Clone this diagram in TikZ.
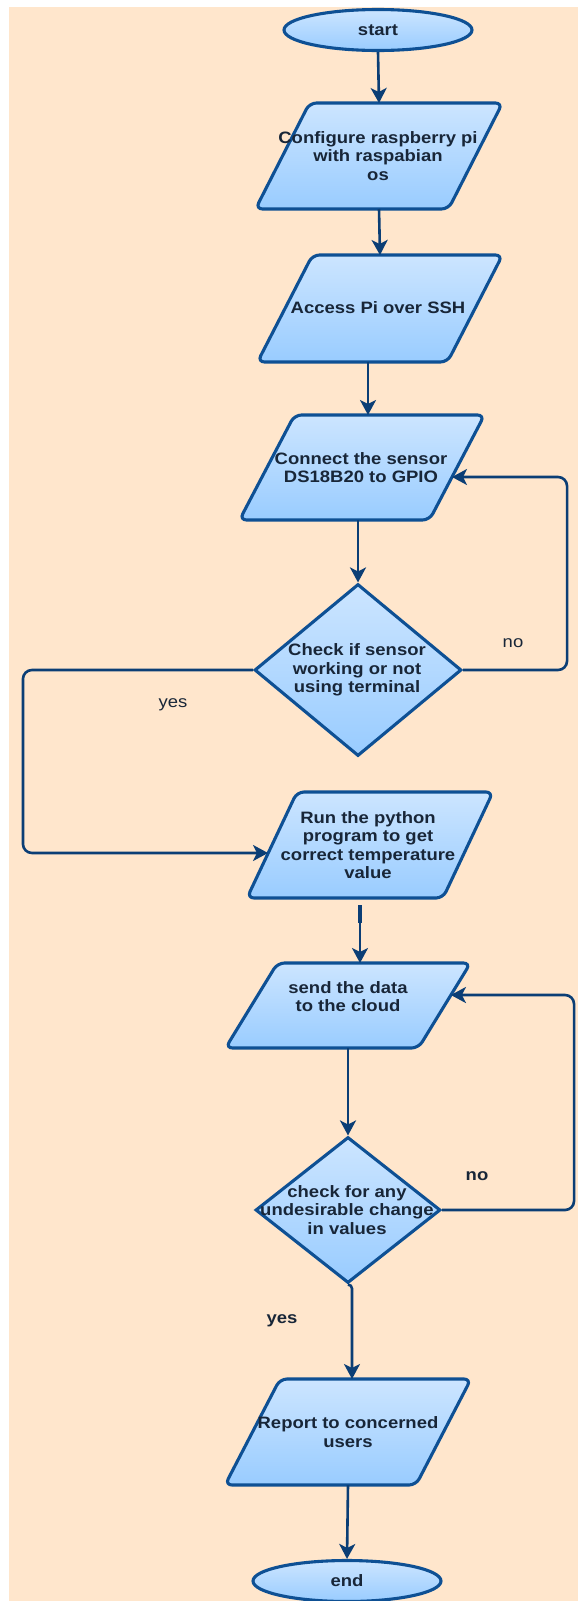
\documentclass[tikz,border=0pt]{standalone}
\usepackage{fontspec}
\setmainfont[FakeStretch=1.12]{Liberation Sans}
\usetikzlibrary{shapes.geometric,arrows.meta,calc}
\definecolor{bgc}{HTML}{FFE6CC}
\definecolor{bord}{HTML}{0E5094}
\definecolor{topc}{HTML}{CCE5FF}
\definecolor{botc}{HTML}{99CCFF}
\definecolor{linec}{HTML}{0B3E75}
\definecolor{txtc}{HTML}{182638}
\newcommand\blkfont{\fontsize{16.5}{18.3}\selectfont\bfseries}
\newcommand\labfont{\fontsize{16.5}{18.3}\selectfont}
% name, cx, cy, edge width, height, slant
\newcommand\iobox[6]{%
  \node[iobody, minimum width=#4pt, minimum height=#5pt] (#1) at (#2,#3) {};
  \draw[blkpath] ($(#1.south west)+(-#6/2,0)$) -- ($(#1.south east)+(-#6/2,0)$)
     -- ($(#1.north east)+(#6/2,0)$) -- ($(#1.north west)+(#6/2,0)$) -- cycle;}
\begin{document}
\begin{tikzpicture}[x=1pt,y=-1pt,
  blk/.style={draw=bord, line width=3.1pt, top color=topc, bottom color=botc, inner sep=0pt},
  blkpath/.style={blk, rounded corners=7pt},
  iobody/.style={rectangle, inner sep=0pt, outer sep=0pt},
  dec/.style={blk, diamond},
  term/.style={blk, ellipse, minimum width=188pt, minimum height=41pt, font=\blkfont, text=txtc},
  txt/.style={font=\blkfont, text=txtc, align=center, inner sep=0pt},
  lab/.style={font=\labfont, text=txtc, inner sep=0pt},
  labb/.style={font=\blkfont, text=txtc, inner sep=0pt},
  arr/.style={draw=linec, line width=2.6pt, -{Stealth[length=15pt,width=16pt,inset=4pt]}, rounded corners=9pt}
]
\useasboundingbox (0,0) rectangle (578,1601);
\fill[white] (0,0) rectangle (578,1601);
\fill[bgc] (9,7) rectangle (578,1601);

% shapes
\node[term] (start) at (378,30) {start};
\iobox{p1}{379}{156}{193}{106}{54}
\iobox{p2}{380}{308.5}{190}{107}{55}
\iobox{p3}{362}{467.5}{190}{105}{55}
\node[dec, minimum width=207pt, minimum height=172pt] (d1) at (358,670) {};
\iobox{p4}{370}{845}{196}{106}{50}
\iobox{p5}{348}{1005.5}{193}{85}{52}
\node[dec, minimum width=185pt, minimum height=146pt] (d2) at (348,1210) {};
\iobox{p6}{348}{1432}{191}{106}{55}
\node[term] (end) at (347,1581) {end};

% texts
\node[txt] (t1) at (378,156) {Configure raspberry pi\\with raspabian\\os};
\node[txt] (t2) at (378,308) {Access Pi over SSH};
\node[txt] (t3) at (361,467.5) {Connect the sensor\\DS18B20 to GPIO};
\node[txt] (t4) at (357,670) {Check if sensor\\working or not\\using terminal};
\node[txt] (t5) at (368,845) {Run the python\\program to get\\correct temperature\\value};
\node[txt] (t6) at (348,996.5) {send the data\\to the cloud};
\node[txt] (t7) at (347,1210) {check for any\\undesirable change\\in values};
\node[txt] (t8) at (348,1432) {Report to concerned\\users};

% labels
\node[lab] (no1) at (513,643) {no};
\node[lab] (yes1) at (173,705) {yes};
\node[labb] (no2) at (477,1176) {no};
\node[labb] (yes2) at (282,1321) {yes};

% entry points on slanted edges
\coordinate (n1in) at ([shift={(-5pt,-9.5pt)}]p3.east);
\coordinate (y1in) at ([shift={(-4pt,-8pt)}]p4.west);
\coordinate (n2in) at ([shift={(6.4pt,10.5pt)}]p5.east);

% connectors
\draw[arr] (start.south) -- (p1.north);
\draw[arr] (p1.south) -- (p2.north);
\draw[arr] ([xshift=-12pt]p2.south) -- ([xshift=6pt]p3.north);
\draw[arr] ([xshift=-4pt]p3.south) -- (d1.north);
\draw[arr] (d1.east) -- ++(104,0) |- (n1in);
\draw[arr] (d1.west) -- ++(-230,0) |- (y1in);
\draw[arr, shorten <=7pt] ([xshift=-10pt]p4.south) -- ([xshift=12pt]p5.north);
\draw[linec, line width=3.6pt] ([shift={(-10pt,-7pt)}]p4.south) -- ++(0,18);
\draw[arr] (p5.south) -- (d2.north);
\draw[arr] (d2.east) -- ++(132,0) |- (n2in);
\draw[arr, rounded corners=4pt] (d2.south) -| ([xshift=4pt]p6.north);
\draw[arr] (p6.south) -- (end.north);
\end{tikzpicture}
\end{document}
